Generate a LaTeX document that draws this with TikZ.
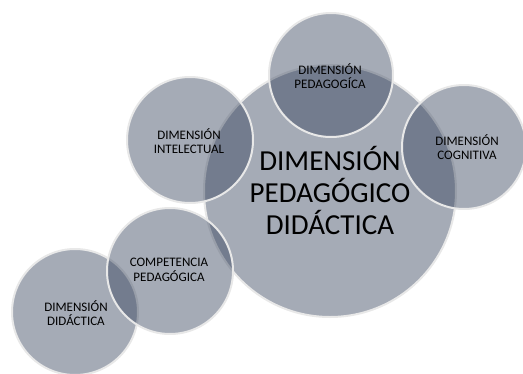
\documentclass[tikz,border=0pt]{standalone}
\usepackage{fontspec}
\setmainfont{Carlito}
\definecolor{circfill}{RGB}{55,68,93}
\definecolor{circline}{RGB}{232,232,232}
\tikzset{
  bubble/.style={circle, fill=circfill, fill opacity=0.45, text opacity=1,
    draw=circline, draw opacity=1, line width=2pt, inner sep=0pt},
  bigtext/.style={align=center, font=\fontsize{29}{32}\selectfont, text=black},
  smalltext/.style={align=center, font=\fontsize{13}{14.5}\selectfont, text=black}
}
\begin{document}
\begin{tikzpicture}[x=1pt,y=-1pt]
\path[use as bounding box] (0,0) rectangle (523,373);
\begin{scope}
\clip (0,0) rectangle (523,373);
\node[bubble, minimum size=252pt] (main) at (330,191) {};
\node[bubble, minimum size=124pt] (ped) at (331,75) {};
\node[bubble, minimum size=126pt] (int) at (190,140) {};
\node[bubble, minimum size=124pt] (cog) at (464,147) {};
\node[bubble, minimum size=126pt] (did) at (75,312) {};
\node[bubble, minimum size=126pt] (comp) at (170,271) {};
\end{scope}
\node[bigtext] (maint) at (330,190) {DIMENSIÓN\\PEDAGÓGICO\\DIDÁCTICA};
\node[smalltext] (pedt) at (330,76) {DIMENSIÓN\\PEDAGOGÍCA};
\node[smalltext] (intt) at (189,141) {DIMENSIÓN\\INTELECTUAL};
\node[smalltext] (cogt) at (467,147) {DIMENSIÓN\\COGNITIVA};
\node[smalltext] (compt) at (169,270) {COMPETENCIA\\PEDAGÓGICA};
\node[smalltext] (didt) at (76,313) {DIMENSIÓN\\DIDÁCTICA};
\end{tikzpicture}
\end{document}
